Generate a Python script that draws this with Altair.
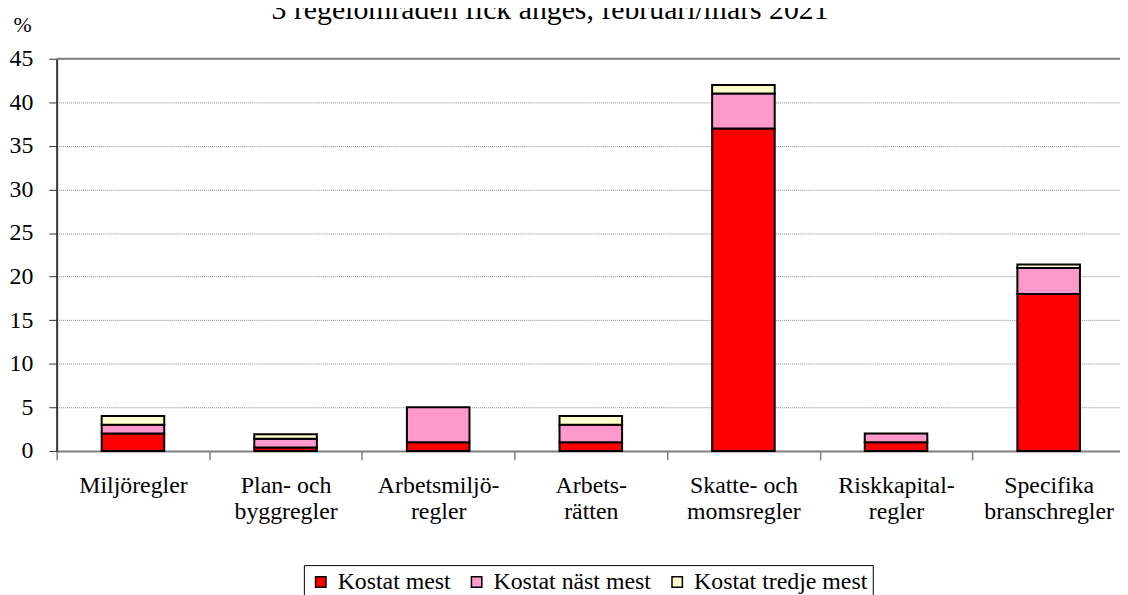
import altair as alt
import pandas as pd

categories = [
    "Miljöregler",
    "Plan- och\nbyggregler",
    "Arbetsmiljö-\nregler",
    "Arbets-\nrätten",
    "Skatte- och\nmomsregler",
    "Riskkapital-\nregler",
    "Specifika\nbranschregler",
]
series = ["Kostat mest", "Kostat näst mest", "Kostat tredje mest"]
kostat_mest = [2, 0.4, 1, 1, 37, 1, 18]
kostat_nast_mest = [1, 1.0, 4, 2, 4, 1, 3]
kostat_tredje_mest = [1, 0.5, 0, 1, 1, 0, 0.4]
colors = ["#FF0000", "#FF99CC", "#FFFFCC"]
y_ticks = [0, 5, 10, 15, 20, 25, 30, 35, 40, 45]
title_text = "3 regelområden fick anges, februari/mars 2021"

FONT = "Liberation Serif"

rows = []
for s_i, (s, vals) in enumerate(zip(series, [kostat_mest, kostat_nast_mest, kostat_tredje_mest])):
    for c, v in zip(categories, vals):
        if v > 0:
            rows.append({"kategori": c, "serie": s, "ord": s_i, "varde": v})
df = pd.DataFrame(rows)

bars = alt.Chart(df).mark_bar(
    stroke="black", strokeWidth=2, width=alt.RelativeBandSize(0.41)
).encode(
    x=alt.X(
        "kategori:N",
        sort=categories,
        scale=alt.Scale(paddingInner=0, paddingOuter=0),
        axis=alt.Axis(
            title=None,
            labelAngle=0,
            labelExpr="split(datum.label, '\\n')",
            labelFont=FONT,
            labelFontSize=24,
            labelColor="black",
            labelLineHeight=26,
            labelPadding=14,
            tickBand="extent",
            tickSize=9,
            tickColor="#808080",
            tickWidth=1.5,
            domainColor="#808080",
            domainWidth=2,
            grid=False,
        ),
    ),
    y=alt.Y(
        "varde:Q",
        stack="zero",
        scale=alt.Scale(domain=[0, 45], nice=False),
        axis=alt.Axis(
            title="%",
            titleAngle=0,
            titleFont=FONT,
            titleFontSize=22,
            titleFontWeight="normal",
            titleColor="black",
            titleX=-44,
            titleY=-27,
            titleAlign="left",
            titleBaseline="alphabetic",
            values=y_ticks,
            labelFont=FONT,
            labelFontSize=24,
            labelColor="black",
            labelPadding=16,
            tickSize=8,
            tickColor="#333333",
            domainColor="#333333",
            domainWidth=2,
            grid=True,
            gridColor="#888888",
            gridDash=[1, 1],
            gridWidth=1,
        ),
    ),
    color=alt.Color(
        "serie:N",
        sort=series,
        scale=alt.Scale(domain=series, range=colors),
        legend=alt.Legend(
            title=None,
            orient="none",
            legendX=249,
            legendY=510,
            direction="horizontal",
            strokeColor="black",
            fillColor="white",
            padding=5,
            symbolType="square",
            symbolSize=110,
            symbolStrokeColor="black",
            symbolStrokeWidth=1.5,
            labelFont=FONT,
            labelFontSize=24,
            labelColor="black",
            labelOffset=5,
            labelLimit=0,
            columnPadding=14,
        ),
    ),
    order=alt.Order("ord:Q", sort="ascending"),
)

top_border = alt.Chart(pd.DataFrame({"v": [y_ticks[-1]]})).mark_rule(
    color="#808080", strokeWidth=2
).encode(y=alt.Y("v:Q"))

title = alt.Chart(pd.DataFrame({"t": [title_text]})).mark_text(
    font=FONT, fontSize=30, color="black", align="center", baseline="alphabetic"
).encode(text="t:N", x=alt.value(497), y=alt.value(-40))

chart = alt.layer(bars, top_border, title).properties(
    width=1076,
    height=395,
    autosize=alt.AutoSizeParams(type="none"),
    padding={"left": 49, "top": 49, "right": -5, "bottom": 143},
).configure_view(stroke=None)

chart.save("out.html", embed_options={"renderer": "svg", "actions": False})
